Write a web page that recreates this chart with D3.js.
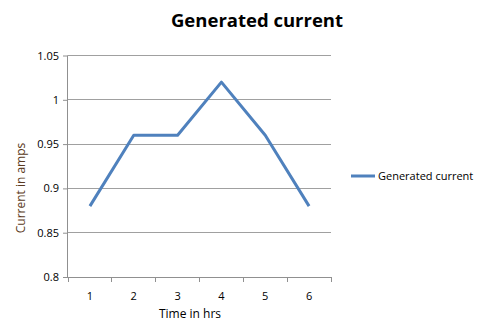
<!DOCTYPE html>
<html><head><meta charset="utf-8">
<script src="https://cdn.jsdelivr.net/npm/d3@7/dist/d3.min.js"></script>
<style>body{margin:0;background:#fff}svg{display:block}text{font-family:"Open Sans","Noto Sans",sans-serif}</style>
</head><body><svg id="c" width="480" height="324"></svg>
<script>
const categories = ["1","2","3","4","5","6"];
const values = [0.88, 0.96, 0.96, 1.02, 0.96, 0.88];
const yTicks = [0.8, 0.85, 0.9, 0.95, 1, 1.05];
const seriesName = "Generated current";

const svg = d3.select("#c");
const L = 68, R = 331, T = 55.5, B = 277;
const x = d3.scaleBand().domain(categories).range([L, R]);
const y = d3.scaleLinear().domain([0.8, 1.05]).range([B, T]);
const color = "#4F81BD";

// gridlines
svg.append("g").selectAll("line").data(yTicks.slice(1)).join("line")
  .attr("x1", L).attr("x2", R).attr("y1", d => y(d)).attr("y2", d => y(d))
  .attr("stroke", "#a0a0a0").attr("stroke-width", 1).attr("shape-rendering","crispEdges");

// y axis
const ya = svg.append("g").attr("transform", `translate(${L},0)`)
  .call(d3.axisLeft(y).tickValues(yTicks).tickSize(5).tickPadding(4).tickFormat(d => d3.format("")(+d.toFixed(2))));
ya.select(".domain").attr("stroke", "#909090").attr("d", `M-0.5,${T}V${B}`);
ya.selectAll(".tick line").attr("stroke", "#909090");
ya.selectAll(".tick text").attr("font-size", 11).attr("fill", "#000");

// x axis
const xa = svg.append("g").attr("transform", `translate(0,${B})`)
  .call(d3.axisBottom(x).tickSize(0).tickPadding(15));
xa.select(".domain").attr("stroke", "#909090").attr("d", `M${L},0.5H${R}`);
xa.selectAll(".tick text").attr("font-size", 11).attr("fill", "#000");
const bounds = categories.map(c => x(c)).concat([R]);
xa.append("g").selectAll("line").data(bounds).join("line")
  .attr("x1", d => d).attr("x2", d => d).attr("y1", 0).attr("y2", 5)
  .attr("stroke", "#909090").attr("shape-rendering","crispEdges");

// line
const line = d3.line().x((d, i) => x(categories[i]) + x.bandwidth() / 2).y(d => y(d));
svg.append("path").datum(values).attr("d", line)
  .attr("fill", "none").attr("stroke", color).attr("stroke-width", 3).attr("stroke-linejoin", "round");

// title
svg.append("text").attr("x", 257).attr("y", 27).attr("text-anchor", "middle")
  .attr("font-size", 18.5).attr("font-weight", "bold").attr("fill", "#000").text("Generated current");

// axis titles
svg.append("text").attr("x", 190).attr("y", 318).attr("text-anchor", "middle")
  .attr("font-size", 12).attr("fill", "#000").text("Time in hrs");
svg.append("text").attr("transform", "translate(25,188) rotate(-90)").attr("text-anchor", "middle")
  .attr("font-size", 12).attr("fill", "#5a3a22").text("Current in amps");

// legend
svg.append("line").attr("x1", 351).attr("x2", 375).attr("y1", 176).attr("y2", 176)
  .attr("stroke", color).attr("stroke-width", 3);
svg.append("text").attr("x", 378).attr("y", 180).attr("font-size", 11).attr("fill", "#000").text(seriesName);
</script></body></html>
